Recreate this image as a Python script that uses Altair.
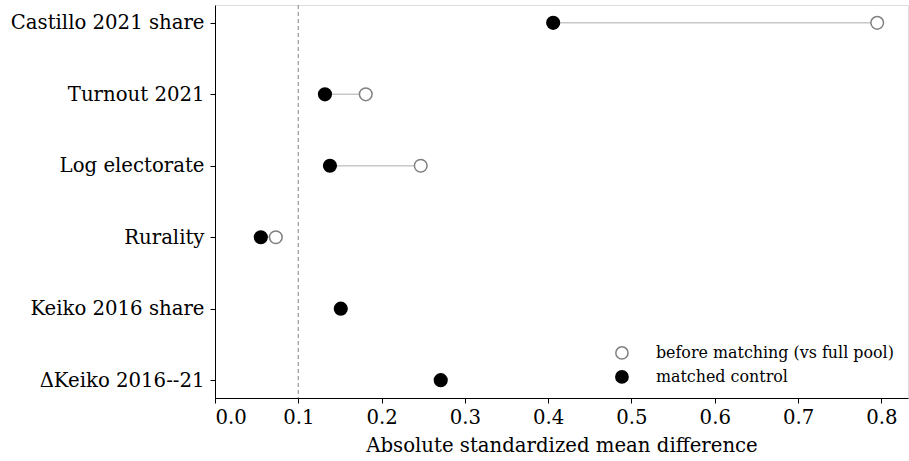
import altair as alt
import pandas as pd

# Covariate balance: standardized mean differences before and after matching
covariates = ["Castillo 2021 share", "Turnout 2021", "Log electorate",
              "Rurality", "Keiko 2016 share", "ΔKeiko 2016--21"]
smd_before = [0.795, 0.181, 0.247, 0.073, None, None]
smd_matched = [0.406, 0.132, 0.138, 0.055, 0.151, 0.271]

series_before = "before matching (vs full pool)"
series_matched = "matched control"

rows = []
for c, b, m in zip(covariates, smd_before, smd_matched):
    if b is not None:
        rows.append({"covariate": c, "series": series_before, "smd": b})
    rows.append({"covariate": c, "series": series_matched, "smd": m})
points = pd.DataFrame(rows)

segs = pd.DataFrame([
    {"covariate": c, "lo": m, "hi": b}
    for c, b, m in zip(covariates, smd_before, smd_matched) if b is not None
])

FONT = "DejaVu Serif"
AXIS_FS = 19.7
LEGEND_FS = 15.9

x_scale = alt.Scale(domain=[0, 0.832], nice=False, zero=False)
y_scale = alt.Scale(domain=covariates, type="point", padding=0.25)

x_axis = alt.Axis(values=[0, 0.1, 0.2, 0.3, 0.4, 0.5, 0.6, 0.7, 0.8], format=".1f",
                  title="Absolute standardized mean difference",
                  grid=False, domainColor="black", tickColor="black",
                  tickSize=5, labelFontSize=AXIS_FS, titleFontSize=AXIS_FS,
                  labelFont=FONT, titleFont=FONT, labelColor="black",
                  titleColor="black", titleFontWeight="normal",
                  labelPadding=4, titlePadding=9)
y_axis = alt.Axis(title=None, grid=False, domainColor="black", tickColor="black",
                  tickSize=5, labelFontSize=AXIS_FS, labelFont=FONT,
                  labelColor="black", labelPadding=6, labelLimit=0)

threshold = alt.Chart(pd.DataFrame({"v": [0.1]})).mark_rule(
    color="#999999", strokeDash=[4, 3], strokeWidth=1.2
).encode(x=alt.X("v:Q", scale=x_scale, axis=x_axis))

connectors = alt.Chart(segs).mark_rule(color="#c8c8c8", strokeWidth=1.5).encode(
    x=alt.X("lo:Q", scale=x_scale, axis=x_axis),
    x2="hi:Q",
    y=alt.Y("covariate:N", scale=y_scale, axis=y_axis, sort=covariates),
)

legend = alt.Legend(title=None, orient="none", legendX=399, legendY=340,
                    labelFont=FONT, labelFontSize=LEGEND_FS, labelColor="black",
                    symbolSize=150, symbolStrokeWidth=1.5, labelOffset=26,
                    rowPadding=4, padding=0, labelLimit=0)

dots = alt.Chart(points).mark_point(size=160, strokeWidth=1.5, opacity=1).encode(
    x=alt.X("smd:Q", scale=x_scale, axis=x_axis),
    y=alt.Y("covariate:N", scale=y_scale, axis=y_axis, sort=covariates),
    fill=alt.Fill("series:N", scale=alt.Scale(domain=[series_before, series_matched],
                                              range=["white", "black"]), legend=legend),
    stroke=alt.Stroke("series:N", scale=alt.Scale(domain=[series_before, series_matched],
                                                  range=["#808080", "black"]), legend=legend),
)

chart = alt.layer(threshold, connectors, dots).properties(
    width=693, height=393,
    autosize=alt.AutoSizeParams(type="none"),
    padding={"left": 215, "top": 5, "right": 1, "bottom": 63},
).configure_view(stroke=None).configure(background="white")

chart.save("out.html", embed_options={"renderer": "svg", "actions": False})
